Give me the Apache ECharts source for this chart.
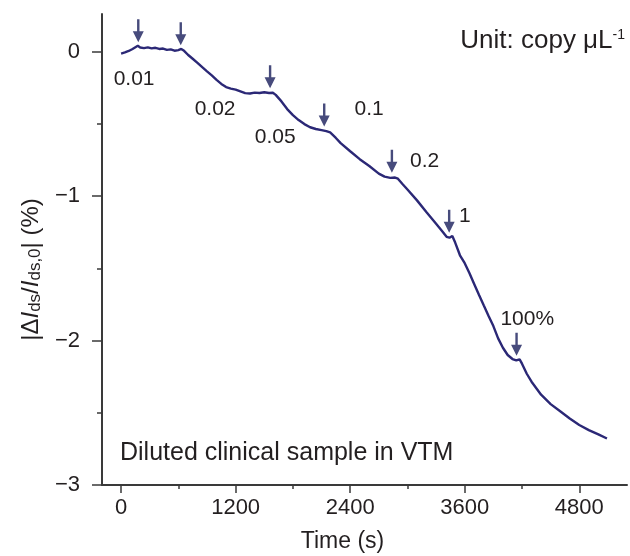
<!DOCTYPE html>
<html>
<head>
<meta charset="utf-8">
<title>Diluted clinical sample response</title>
<script src="https://cdn.jsdelivr.net/npm/echarts@6/dist/echarts.min.js"></script>
<style>
  html, body { margin: 0; padding: 0; background: #ffffff; }
  #chart { width: 630px; height: 556px; }
</style>
</head>
<body>
<div id="chart"></div>
<script>
// Real-time current response (%) versus time (s)
const timeSec = [
  0, 40, 80, 120, 150, 175, 200, 240, 280, 320, 360, 400, 440, 480, 520, 560, 600, 630, 660,
  700, 750, 800, 850, 900, 950, 1000, 1050, 1100, 1150, 1200, 1250, 1300, 1350, 1400, 1450,
  1500, 1550, 1590, 1620, 1680, 1740, 1800, 1860, 1920, 1980, 2040, 2100, 2150, 2190, 2250,
  2300, 2400, 2500, 2600, 2700, 2760, 2820, 2870, 2900, 2950, 3000, 3100, 3200, 3300, 3360,
  3410, 3440, 3470, 3500, 3550, 3600, 3650, 3700, 3750, 3800, 3850, 3900, 3950, 4000, 4050,
  4100, 4140, 4175, 4200, 4250, 4300, 4400, 4500, 4600, 4700, 4800, 4900, 5000, 5090
];
const response = [
  -0.014, -0.006, 0.004, 0.018, 0.030, 0.040, 0.028, 0.024, 0.029, 0.022, 0.026, 0.018, 0.021, 0.012, 0.015, 0.006, 0.010, 0.018, 0.005,
  -0.022, -0.050, -0.078, -0.108, -0.137, -0.165, -0.196, -0.224, -0.246, -0.256, -0.264, -0.276, -0.288, -0.290, -0.284, -0.287,
  -0.282, -0.287, -0.285, -0.300, -0.345, -0.398, -0.440, -0.474, -0.502, -0.524, -0.536, -0.544, -0.551, -0.560, -0.598,
  -0.634, -0.690, -0.745, -0.792, -0.845, -0.866, -0.874, -0.872, -0.880, -0.918, -0.955, -1.030, -1.112, -1.192, -1.240,
  -1.282, -1.288, -1.276, -1.322, -1.410, -1.465, -1.535, -1.610, -1.685, -1.758, -1.830, -1.900, -1.985, -2.050, -2.100,
  -2.128, -2.138, -2.130, -2.160, -2.230, -2.285, -2.375, -2.440, -2.490, -2.540, -2.585, -2.620, -2.650, -2.678
];

// Sample additions (arrow tips) and concentration labels
const arrowTime = [180, 625, 1561, 2128, 2837, 3437, 4143];
const arrowLevel = [0.064, 0.044, -0.254, -0.518, -0.839, -1.254, -2.105];
const doseLabels = ['0.01', '0.02', '0.05', '0.1', '0.2', '1', '100%'];
const labelTime = [136, 985, 1614, 2599, 3180, 3600, 4255];
const labelLevel = [-0.192, -0.400, -0.594, -0.400, -0.760, -1.141, -1.855];

// Axis ticks
const xMajorTicks = [0, 1200, 2400, 3600, 4800];
const xMinorTicks = [600, 1800, 3000, 4200];
const yMajorTicks = [-3, -2, -1, 0];
const yMinorTicks = [-2.5, -1.5, -0.5];

const FONT = "'Liberation Sans', Arial, Helvetica, sans-serif";
const INK = '#231f20';
const AXIS = '#3a3a3a';
const LINE = '#2b2876';
const ARROW = '#474b7c';
const X_MIN = -200, X_MAX = 5300, Y_MIN = -3, Y_MAX = 0.26;

const arrowPath = 'path://M3.8,0 L6.2,0 L6.2,12 L10.5,12 L5,23 L-0.5,12 L3.8,12 Z';
const fmtPlain = v => String(v);
const fmtMinus = v => String(v).replace('-', '\u2212');

const chart = echarts.init(document.getElementById('chart'), null, { renderer: 'canvas' });

const option = {
  backgroundColor: '#ffffff',
  animation: false,
  textStyle: { fontFamily: FONT },
  grid: { left: 102, right: 3, top: 14, bottom: 71, containLabel: false, outerBoundsMode: 'none' },
  xAxis: [
    {
      type: 'value', min: X_MIN, max: X_MAX,
      name: 'Time (s)', nameLocation: 'middle', nameGap: 45,
      nameTextStyle: { fontSize: 23, color: INK, fontFamily: FONT, padding: [0, 44, 0, 0] },
      axisLine: { show: true, onZero: false, lineStyle: { color: AXIS, width: 2 } },
      axisTick: { show: true, customValues: xMajorTicks, length: 8, lineStyle: { color: AXIS, width: 1.5 } },
      axisLabel: { show: true, customValues: xMajorTicks, margin: 12, fontSize: 22, color: INK, fontFamily: FONT, formatter: fmtPlain },
      splitLine: { show: false }
    },
    {
      type: 'value', min: X_MIN, max: X_MAX, position: 'bottom', gridIndex: 0,
      axisLine: { show: false, onZero: false },
      axisTick: { show: true, customValues: xMinorTicks, length: 4, lineStyle: { color: AXIS, width: 1.5 } },
      axisLabel: { show: false },
      splitLine: { show: false }
    }
  ],
  yAxis: [
    {
      type: 'value', min: Y_MIN, max: Y_MAX,
      name: '|\u0394{it|I}{sub|ds}/{it|I}{sub|ds,0}| (%)',
      nameLocation: 'middle', nameRotate: 90, nameGap: 58,
      nameTextStyle: {
        fontSize: 24, color: INK, fontFamily: FONT, padding: [0, 40, 0, 0],
        rich: {
          it: { fontSize: 24, fontStyle: 'italic', color: INK, fontFamily: FONT },
          sub: { fontSize: 17, color: INK, fontFamily: FONT, verticalAlign: 'bottom', padding: [8, 0, 0, 0] }
        }
      },
      axisLine: { show: true, onZero: false, lineStyle: { color: AXIS, width: 2 } },
      axisTick: { show: true, customValues: yMajorTicks, length: 10, lineStyle: { color: AXIS, width: 1.5 } },
      axisLabel: { show: true, customValues: yMajorTicks, margin: 22, fontSize: 22, color: INK, fontFamily: FONT, formatter: fmtMinus },
      splitLine: { show: false }
    },
    {
      type: 'value', min: Y_MIN, max: Y_MAX, position: 'left', gridIndex: 0,
      axisLine: { show: false, onZero: false },
      axisTick: { show: true, customValues: yMinorTicks, length: 5, lineStyle: { color: AXIS, width: 1.5 } },
      axisLabel: { show: false },
      splitLine: { show: false }
    }
  ],
  series: [
    {
      name: 'Response', type: 'line', xAxisIndex: 0, yAxisIndex: 0,
      data: timeSec.map((t, i) => [t, response[i]]),
      showSymbol: false, symbol: 'none', smooth: false,
      lineStyle: { color: LINE, width: 2.4 },
      z: 3
    },
    {
      name: 'Additions', type: 'scatter', xAxisIndex: 0, yAxisIndex: 0,
      data: arrowTime.map((t, i) => [t, arrowLevel[i]]),
      symbol: arrowPath, symbolSize: [11, 23], symbolOffset: [0, '-50%'],
      itemStyle: { color: ARROW, opacity: 1 },
      silent: true, z: 4
    },
    {
      name: 'Concentration', type: 'scatter', xAxisIndex: 0, yAxisIndex: 0,
      data: labelTime.map((t, i) => ({ value: [t, labelLevel[i]], name: doseLabels[i] })),
      symbolSize: 0,
      itemStyle: { opacity: 1 },
      label: {
        show: true, position: 'inside', formatter: p => p.name,
        fontSize: 21, color: INK, opacity: 1, fontFamily: FONT
      },
      silent: true, z: 5
    }
  ],
  graphic: [
    {
      type: 'text', x: 625, y: 41, z: 10,
      style: {
        text: 'Unit: copy \u03bcL{sup|-1}',
        align: 'right', verticalAlign: 'middle',
        font: '26px ' + FONT, fill: INK,
        rich: {
          sup: { fontSize: 14, fontFamily: FONT, fill: INK, verticalAlign: 'top' }
        }
      }
    },
    {
      type: 'text', x: 120, y: 453, z: 10,
      style: {
        text: 'Diluted clinical sample in VTM',
        align: 'left', verticalAlign: 'middle',
        font: '25px ' + FONT, fill: INK
      }
    }
  ]
};

chart.setOption(option);
</script>
</body>
</html>
